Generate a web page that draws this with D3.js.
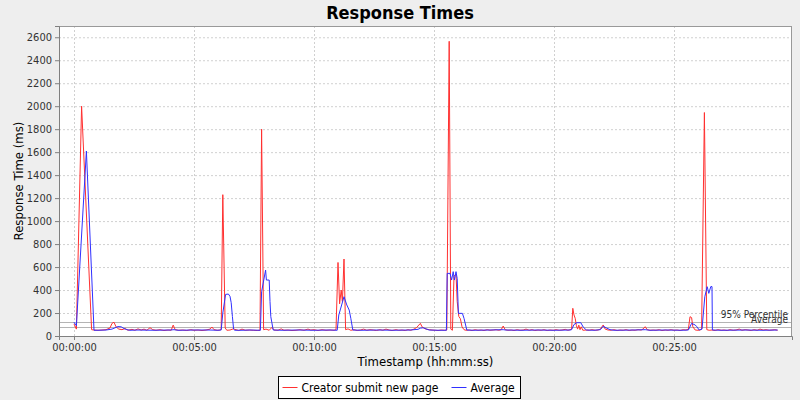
<!DOCTYPE html>
<html>
<head>
<meta charset="utf-8">
<script src="https://cdn.jsdelivr.net/npm/d3@7"></script>
<style>
body { margin: 0; background: #eeeeee; }
svg { display: block; font-family: "DejaVu Sans Condensed", "DejaVu Sans", sans-serif; }
</style>
</head>
<body>
<div id="chart"></div>
<script>
// Chart data (seconds since start, response time in ms)
var seriesNames = ['Creator submit new page', 'Average'];

var creatorSec = [0, 6, 19, 44, 50, 60, 70, 80, 90, 95, 100, 105, 112, 120, 128, 135, 145, 152, 160, 168,
	175, 182, 190, 197, 205, 215, 225, 235, 243, 248, 253, 262, 272, 282, 292, 300, 310, 320, 330, 340,
	345, 350, 358, 365, 368, 372, 378, 382, 390, 398, 405, 412, 420, 428, 438, 448, 458, 465, 469, 474,
	480, 488, 495, 500, 510, 518, 525, 535, 545, 555, 565, 575, 585, 592, 600, 610, 620, 630, 640, 650,
	655, 660, 664, 668, 671, 675, 679, 685, 692, 700, 708, 716, 724, 732, 740, 748, 756, 765, 772, 780,
	788, 795, 805, 812, 820, 828, 835, 842, 850, 857, 862, 866, 870, 875, 880, 888, 895, 903, 910, 918,
	926, 932, 938, 942, 946, 950, 955, 958, 962, 966, 970, 975, 980, 988, 995, 1003, 1010, 1018, 1025, 1033,
	1040, 1048, 1055, 1062, 1068, 1073, 1078, 1085, 1093, 1100, 1108, 1115, 1123, 1130, 1138, 1145, 1152, 1160, 1168, 1175,
	1183, 1190, 1198, 1205, 1213, 1220, 1228, 1235, 1240, 1244, 1247, 1250, 1253, 1256, 1259, 1262, 1265, 1268, 1272, 1280,
	1288, 1295, 1303, 1310, 1316, 1323, 1328, 1335, 1343, 1350, 1358, 1365, 1373, 1380, 1388, 1395, 1403, 1410, 1418, 1423,
	1428, 1433, 1440, 1448, 1455, 1463, 1470, 1478, 1485, 1493, 1500, 1508, 1515, 1523, 1530, 1536, 1540, 1544, 1547, 1553,
	1560, 1565, 1569, 1576, 1582, 1588, 1595, 1603, 1610, 1618, 1625, 1633, 1640, 1648, 1655, 1663, 1670, 1678, 1685, 1693,
	1700, 1708, 1715, 1723, 1730, 1738, 1745, 1752, 1759];
var creatorMs = [105, 60, 2000, 55, 52, 50, 52, 55, 70, 110, 120, 80, 60, 55, 65, 50, 58, 50, 62, 52,
	60, 50, 72, 55, 50, 55, 48, 52, 50, 95, 55, 50, 52, 48, 55, 50, 52, 48, 52, 60,
	78, 55, 50, 52, 60, 1230, 70, 50, 52, 62, 55, 48, 60, 50, 52, 50, 48, 50, 1800, 55,
	60, 50, 75, 52, 50, 62, 50, 52, 48, 50, 55, 50, 60, 52, 55, 48, 55, 50, 52, 50,
	55, 640, 280, 400, 300, 670, 55, 62, 50, 55, 48, 52, 60, 50, 55, 52, 48, 55, 50, 60,
	52, 48, 55, 50, 52, 48, 55, 50, 60, 75, 95, 110, 80, 68, 60, 55, 52, 50, 48, 52,
	50, 52, 2565, 60, 50, 520, 540, 300, 170, 150, 80, 55, 50, 52, 48, 55, 50, 52, 48, 55,
	50, 52, 55, 50, 55, 87, 55, 50, 52, 48, 55, 50, 52, 60, 50, 55, 48, 52, 50, 55,
	48, 52, 50, 55, 50, 52, 58, 50, 55, 60, 241, 183, 154, 90, 60, 95, 55, 80, 50, 52,
	50, 55, 50, 52, 60, 96, 60, 52, 50, 55, 48, 52, 50, 55, 48, 52, 50, 55, 52, 62,
	81, 55, 50, 52, 50, 55, 48, 52, 50, 55, 50, 52, 48, 55, 52, 60, 168, 160, 81, 52,
	50, 52, 60, 1945, 55, 50, 52, 48, 55, 50, 52, 48, 55, 50, 52, 60, 50, 55, 52, 48,
	55, 50, 60, 52, 55, 50, 52, 55, 50];

var averageSec = [0, 6, 31, 50, 60, 80, 95, 105, 110, 118, 125, 132, 140, 160, 200, 240, 250, 260, 300, 340,
	360, 368, 372, 379, 386, 390, 393, 396, 399, 402, 420, 440, 466, 469, 479, 481, 488, 490, 492, 498,
	520, 560, 600, 640, 658, 662, 675, 682, 688, 692, 697, 720, 760, 800, 840, 860, 866, 873, 880, 888,
	910, 931, 933, 940, 944, 948, 951, 955, 958, 961, 971, 975, 982, 1000, 1040, 1073, 1080, 1120, 1160, 1200,
	1240, 1244, 1250, 1257, 1267, 1273, 1281, 1300, 1316, 1323, 1330, 1340, 1350, 1400, 1428, 1440, 1480, 1520, 1536, 1544,
	1553, 1557, 1563, 1570, 1577, 1583, 1587, 1592, 1595, 1596, 1620, 1680, 1720, 1759];
var averageMs = [120, 90, 1610, 50, 50, 52, 60, 75, 82, 80, 65, 55, 50, 52, 50, 52, 55, 50, 52, 52,
	50, 52, 200, 362, 365, 345, 290, 170, 60, 50, 50, 52, 50, 385, 574, 487, 487, 300, 168, 52,
	50, 52, 50, 52, 50, 183, 342, 270, 226, 154, 52, 50, 52, 50, 52, 58, 68, 72, 62, 52,
	50, 50, 545, 545, 487, 560, 487, 560, 500, 197, 197, 154, 52, 50, 52, 55, 52, 50, 52, 50,
	52, 55, 100, 116, 116, 78, 52, 50, 55, 85, 72, 55, 50, 52, 55, 50, 52, 50, 52, 110,
	96, 81, 52, 60, 342, 429, 371, 430, 430, 52, 50, 52, 50, 52];

var refNames = ['95% Percentile', 'Average'];
var refValues = [124, 81];

var yTicks = [0, 200, 400, 600, 800, 1000, 1200, 1400, 1600, 1800, 2000, 2200, 2400, 2600];
var xTicksSec = [0, 300, 600, 900, 1200, 1500];

var width = 800, height = 400;
var margin = {top: 26, right: 8, bottom: 64, left: 59};
var pw = width - margin.left - margin.right,
	ph = height - margin.top - margin.bottom;

var svg = d3.select('#chart').append('svg')
	.attr('width', width)
	.attr('height', height);

svg.append('rect')
	.attr('width', width)
	.attr('height', height)
	.attr('fill', '#eeeeee');

// title
svg.append('text')
	.attr('x', width / 2)
	.attr('y', 19)
	.attr('text-anchor', 'middle')
	.style('font-size', '18px')
	.style('font-weight', 'bold')
	.text('Response Times');

var x = d3.scaleLinear()
	.domain([-37.5, 1795])
	.range([0, pw]);

var y = d3.scaleLinear()
	.domain([0, 2698])
	.range([ph, 0]);

var g = svg.append('g')
	.attr('transform', 'translate(' + margin.left + ',' + margin.top + ')');

g.append('rect')
	.attr('width', pw)
	.attr('height', ph)
	.attr('fill', 'white');

// grid lines
g.selectAll('.hgrid')
	.data(yTicks)
	.enter().append('line')
	.attr('x1', 0).attr('x2', pw)
	.attr('y1', d => y(d) + 0.5).attr('y2', d => y(d) + 0.5)
	.attr('stroke', '#d0d0d0')
	.attr('stroke-dasharray', '2,2');

g.selectAll('.vgrid')
	.data(xTicksSec)
	.enter().append('line')
	.attr('x1', d => Math.round(x(d)) + 0.5).attr('x2', d => Math.round(x(d)) + 0.5)
	.attr('y1', 0).attr('y2', ph)
	.attr('stroke', '#d0d0d0')
	.attr('stroke-dasharray', '2,2');

// reference lines (percentile / average)
g.selectAll('.refline')
	.data(refValues)
	.enter().append('line')
	.attr('x1', 0).attr('x2', pw)
	.attr('y1', d => Math.round(y(d)) + 0.5).attr('y2', d => Math.round(y(d)) + 0.5)
	.attr('stroke', '#b4b4b4');

g.selectAll('.reflabel')
	.data(refNames)
	.enter().append('text')
	.attr('x', pw - 4)
	.attr('y', (d, i) => y(refValues[i]) - 4)
	.attr('text-anchor', 'end')
	.style('font-size', '10px')
	.attr('fill', '#333')
	.text(d => d);

var line = d3.line()
	.x(d => x(d[0]))
	.y(d => y(d[1]));

var creatorData = d3.zip(creatorSec, creatorMs);
var averageData = d3.zip(averageSec, averageMs);

g.append('path')
	.datum(creatorData)
	.attr('d', line)
	.attr('fill', 'none')
	.attr('stroke', '#ff3030')
	.attr('stroke-width', 1);

g.append('path')
	.datum(averageData)
	.attr('d', line)
	.attr('fill', 'none')
	.attr('stroke', '#3030ff')
	.attr('stroke-width', 1);

// plot border
g.append('rect')
	.attr('x', 0.5).attr('y', 0.5)
	.attr('width', pw - 1)
	.attr('height', ph)
	.attr('fill', 'none')
	.attr('stroke', '#999');

// axes
var fmt = d3.utcFormat('%H:%M:%S');
var xAxis = g.append('g')
	.attr('transform', 'translate(0,' + ph + ')')
	.call(d3.axisBottom(x)
		.tickValues(xTicksSec)
		.tickSize(4)
		.tickFormat(d => fmt(new Date(d * 1000))));

var yAxis = g.append('g')
	.call(d3.axisLeft(y)
		.tickValues(yTicks)
		.tickSize(4)
		.tickFormat(d3.format('d')));

[xAxis, yAxis].forEach(a => {
	a.select('.domain').attr('stroke', '#808080');
	a.selectAll('.tick line').attr('stroke', '#808080');
	a.selectAll('.tick text')
		.style('font-size', '11px')
		.style('font-family', '"DejaVu Sans Condensed", "DejaVu Sans", sans-serif')
		.attr('fill', '#333');
});

// axis titles
svg.append('text')
	.attr('x', margin.left + pw / 2)
	.attr('y', 366)
	.attr('text-anchor', 'middle')
	.style('font-size', '13px')
	.text('Timestamp (hh:mm:ss)');

svg.append('text')
	.attr('transform', 'translate(23,' + (margin.top + ph / 2) + ') rotate(-90)')
	.attr('text-anchor', 'middle')
	.style('font-size', '13px')
	.text('Response Time (ms)');

// legend
var legend = svg.append('g')
	.attr('transform', 'translate(278.5,376.5)');

legend.append('rect')
	.attr('width', 242)
	.attr('height', 22)
	.attr('fill', 'white')
	.attr('stroke', 'black');

var legendColors = ['#ff3030', '#3030ff'];
var legendX = [4, 173];
seriesNames.forEach((name, i) => {
	legend.append('line')
		.attr('x1', legendX[i]).attr('x2', legendX[i] + 15)
		.attr('y1', 11).attr('y2', 11)
		.attr('stroke', legendColors[i]);
	legend.append('text')
		.attr('x', legendX[i] + 19)
		.attr('y', 15.5)
		.style('font-size', '12px')
		.text(name);
});
</script>
</body>
</html>
